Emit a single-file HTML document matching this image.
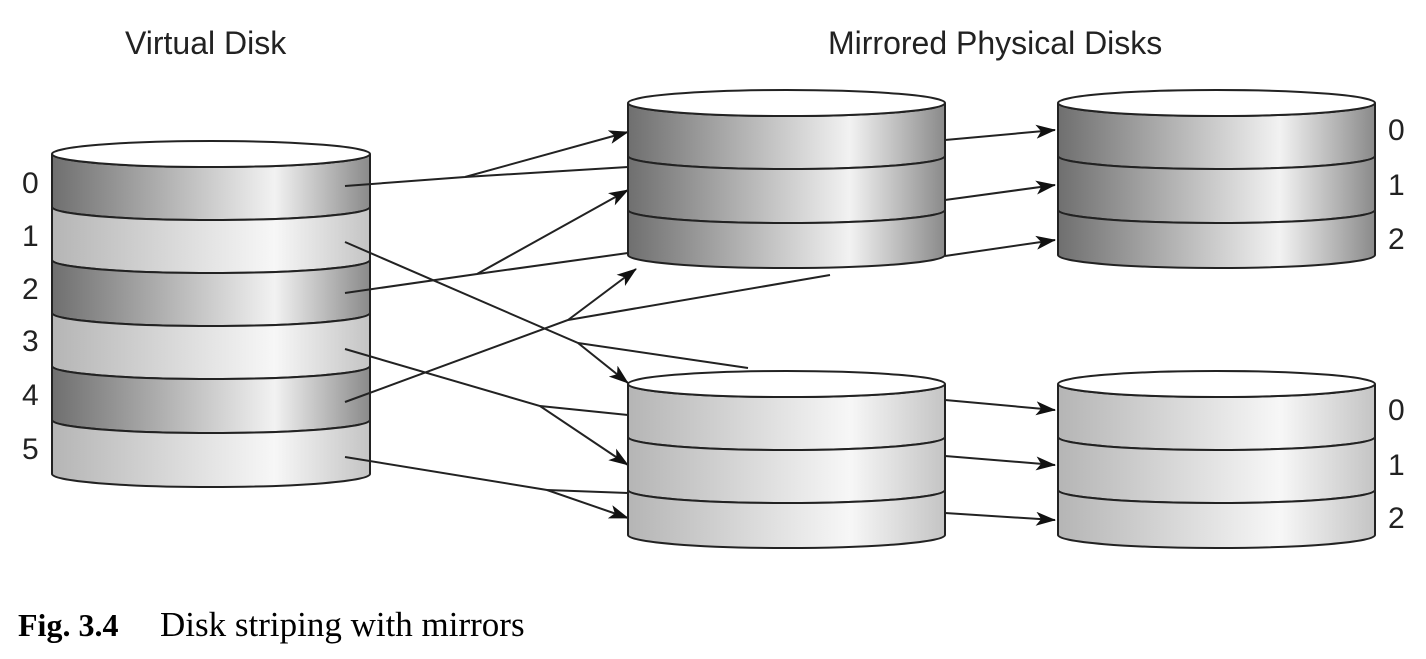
<!DOCTYPE html>
<html><head><meta charset="utf-8"><style>
body{margin:0;background:#fff;width:1426px;height:654px;overflow:hidden}
svg text{font-family:"Liberation Sans",sans-serif;font-size:30px;fill:#222}
</style></head><body>
<svg id="s" width="1426" height="654" viewBox="0 0 1426 654" xmlns="http://www.w3.org/2000/svg">
<defs>
<linearGradient id="dk" x1="0" x2="1"><stop offset="0" stop-color="#6f6f6f"/><stop offset="0.7" stop-color="#f2f2f2"/><stop offset="1" stop-color="#8a8a8a"/></linearGradient>
<linearGradient id="lt" x1="0" x2="1"><stop offset="0" stop-color="#b5b5b5"/><stop offset="0.7" stop-color="#f7f7f7"/><stop offset="1" stop-color="#c4c4c4"/></linearGradient>
<marker id="a" markerWidth="20" markerHeight="14" refX="19" refY="7" orient="auto" markerUnits="userSpaceOnUse"><path d="M0,0 L20,7 L0,14 L5,7z" fill="#111"/></marker>
</defs>
<g id="vd"></g>
<g id="lines" stroke="#222" stroke-width="2" fill="none"></g>
<g id="disks"></g>
<text x="125" y="54" style="font-size:32px">Virtual Disk</text>
<text x="828" y="54" style="font-size:32px">Mirrored Physical Disks</text>
<text x="22" y="193">0</text><text x="22" y="246">1</text><text x="22" y="299">2</text>
<text x="22" y="351">3</text><text x="22" y="405">4</text><text x="22" y="459">5</text>
<text x="1388" y="140">0</text><text x="1388" y="195">1</text><text x="1388" y="249">2</text>
<text x="1388" y="420">0</text><text x="1388" y="475">1</text><text x="1388" y="528">2</text>
<text x="18" y="636" style="font-family:'Liberation Serif',serif;font-size:32px;font-weight:bold;fill:#000">Fig. 3.4</text>
<text x="160" y="636" style="font-family:'Liberation Serif',serif;font-size:35px;fill:#000">Disk striping with mirrors</text>
</svg>
<script>
const NS="http://www.w3.org/2000/svg";
function el(p,t,a){const e=document.createElementNS(NS,t);for(const k in a)e.setAttribute(k,a[k]);p.appendChild(e);return e;}
const V=document.getElementById('vd'),D=document.getElementById('disks'),L=document.getElementById('lines');
function cyl(G,x1,x2,top,bounds,fills){
 const cx=(x1+x2)/2,rx=(x2-x1)/2,ry=13;
 for(let i=0;i<fills.length;i++){
  const a=bounds[i],b=bounds[i+1];
  el(G,'path',{d:`M${x1},${a} A${rx},${ry} 0 0 0 ${x2},${a} L${x2},${b} A${rx},${ry} 0 0 1 ${x1},${b} Z`,fill:fills[i],stroke:'#222','stroke-width':2});
 }
 el(G,'ellipse',{cx:cx,cy:top,rx:rx,ry:ry,fill:'#fff',stroke:'#222','stroke-width':2});
}
const dk='url(#dk)',lt='url(#lt)';
cyl(V,52,370,154,[154,207,260,313,366,420,474],[dk,lt,dk,lt,dk,lt]);
cyl(D,628,945,103,[103,156,210,255],[dk,dk,dk]);
cyl(D,1058,1375,103,[103,156,210,255],[dk,dk,dk]);
cyl(D,628,945,384,[384,437,490,535],[lt,lt,lt]);
cyl(D,1058,1375,384,[384,437,490,535],[lt,lt,lt]);
function ln(pts,arrow){el(L,'polyline',{points:pts.map(p=>p.join(',')).join(' '),'marker-end':arrow?'url(#a)':''});}
ln([[345,186],[465,177],[628,132]],1); ln([[465,177],[628,167]]); ln([[945,140],[1055,130]],1);
ln([[345,242],[578,343],[628,383]],1); ln([[578,343],[748,368]]); ln([[945,400],[1055,410]],1);
ln([[345,293],[477,274],[628,190]],1); ln([[477,274],[628,253]]); ln([[945,200],[1055,185]],1);
ln([[345,349],[540,406],[628,465]],1); ln([[540,406],[628,415]]); ln([[945,456],[1055,465]],1);
ln([[345,402],[568,320],[636,269]],1); ln([[568,320],[830,275]]); ln([[945,256],[1055,240]],1);
ln([[345,457],[547,490],[628,518]],1); ln([[547,490],[628,493]]); ln([[945,513],[1055,520]],1);
</script>
</body></html>
